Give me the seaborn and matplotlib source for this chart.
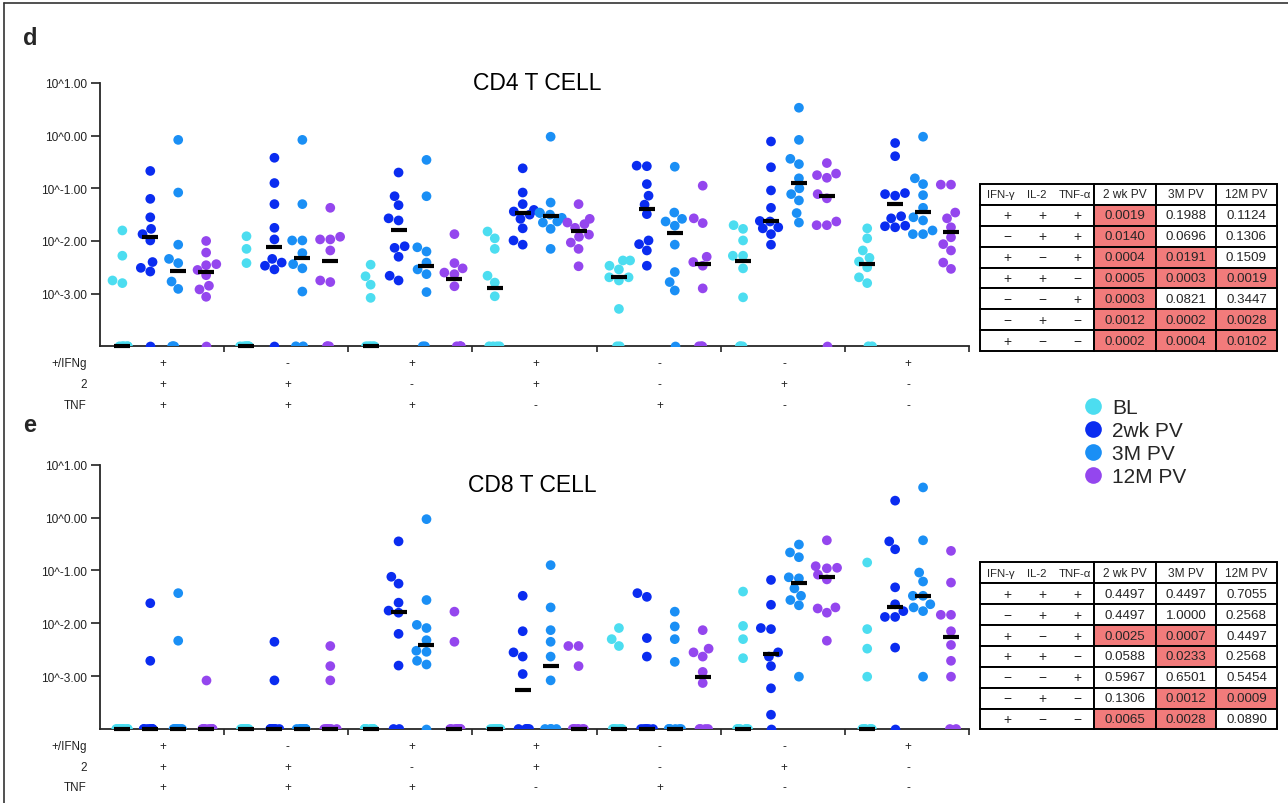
import numpy as np
import pandas as pd
import matplotlib
matplotlib.use("Agg")
import matplotlib.pyplot as plt
from matplotlib.lines import Line2D
from matplotlib.patches import Rectangle
from matplotlib.ticker import FixedLocator, FixedFormatter, NullLocator
import seaborn as sns

# ---------------- data (log10 of frequency; Z = zero / below detection) ----------------
Z = None
SERIES = ["BL", "2wk PV", "3M PV", "12M PV"]
COLORS = ["#4CDDF0", "#0A2CF0", "#1A8FF5", "#9446EE"]
ROW_NAMES = ["+/IFNg", "2", "TNF"]
IFNG = ["+", "-", "+", "+", "-", "-", "+"]
IL2 = ["+", "+", "-", "+", "-", "+", "-"]
TNF = ["+", "+", "+", "-", "+", "-", "-"]
Y_EXPONENTS = [1, 0, -1, -2, -3]

CD4_BL = [
    [-1.80, -2.28, -2.75, -2.80] + [Z] * 6,
    [-1.91, -2.15, -2.42] + [Z] * 7,
    [-2.45, -2.67, -2.83, -3.08] + [Z] * 6,
    [-1.82, -1.95, -2.15, -2.66, -2.79, -3.05] + [Z] * 4,
    [-2.37, -2.37, -2.47, -2.54, -2.69, -2.69, -2.75, -3.29] + [Z] * 2,
    [-1.70, -1.77, -1.99, -2.28, -2.28, -2.52, -3.07] + [Z] * 3,
    [-1.76, -1.95, -2.18, -2.32, -2.39, -2.50, -2.69, -2.80] + [Z] * 2,
]
CD4_2WK = [
    [-0.67, -1.20, -1.55, -1.77, -1.87, -1.99, -2.40, -2.51, -2.58, Z],
    [-0.42, -0.90, -1.30, -1.75, -1.97, -2.34, -2.41, -2.47, -2.54, Z],
    [-0.70, -1.15, -1.32, -1.57, -1.61, -2.10, -2.13, -2.30, -2.66, -2.75],
    [-0.62, -1.08, -1.30, -1.41, -1.44, -1.50, -1.58, -1.76, -1.99, -2.07],
    [-0.57, -0.58, -0.92, -1.14, -1.31, -1.49, -1.99, -2.06, -2.18, -2.47],
    [-0.11, -0.60, -1.04, -1.37, -1.62, -1.63, -1.74, -1.76, -1.87, -2.07],
    [-0.14, -0.39, -1.09, -1.11, -1.14, -1.53, -1.57, -1.71, -1.72, -1.74],
]
CD4_3M = [
    [-0.08, -1.08, -2.07, -2.34, -2.42, -2.77, -2.91, Z, Z, Z],
    [-0.08, -1.30, -1.99, -1.99, -2.23, -2.44, -2.52, -2.96, Z, Z],
    [-0.46, -1.15, -2.12, -2.20, -2.41, -2.54, -2.63, -2.97, Z, Z],
    [-0.02, -1.27, -1.46, -1.47, -1.50, -1.56, -1.63, -1.65, -1.77, -2.15],
    [-0.59, -1.46, -1.58, -1.63, -1.71, -2.07, -2.59, -2.78, -2.94, Z],
    [0.53, -0.08, -0.44, -0.54, -0.81, -1.00, -1.11, -1.23, -1.47, -1.65],
    [-0.02, -0.81, -0.92, -1.13, -1.37, -1.55, -1.61, -1.80, -1.87, -1.87],
]
CD4_12M = [
    [-2.00, -2.22, -2.44, -2.46, -2.55, -2.65, -2.85, -2.92, -3.06, Z],
    [-1.37, -1.92, -1.97, -1.97, -2.18, -2.75, -2.78, Z, Z, Z],
    [-1.87, -2.42, -2.52, -2.60, -2.63, -2.86, Z, Z, Z, Z],
    [-1.30, -1.58, -1.65, -1.68, -1.75, -1.88, -1.92, -2.03, -2.15, -2.48],
    [-0.95, -1.57, -1.66, -2.30, -2.40, -2.47, -2.90, Z, Z, Z],
    [-0.52, -0.72, -0.75, -0.80, -1.11, -1.19, -1.63, -1.70, -1.70, Z],
    [-0.93, -0.93, -1.46, -1.57, -1.74, -1.93, -2.06, -2.18, -2.41, -2.53],
]

CD8_BL = [
    [Z] * 10,
    [Z] * 10,
    [Z] * 10,
    [Z] * 10,
    [-2.09, -2.30, -2.43] + [Z] * 7,
    [-1.40, -2.05, -2.30, -2.66] + [Z] * 6,
    [-0.85, -2.11, -2.48, -3.01] + [Z] * 6,
]
CD8_2WK = [
    [-1.62, -2.71] + [Z] * 8,
    [-2.35, -3.08] + [Z] * 8,
    [-0.45, -1.12, -1.25, -1.61, -1.76, -1.80, -2.20, -2.80, Z, Z],
    [-1.48, -2.15, -2.55, -2.63, -2.96] + [Z] * 5,
    [-1.43, -1.50, -2.28, -2.63] + [Z] * 6,
    [-1.18, -1.65, -2.09, -2.11, -2.55, -2.63, -2.81, -3.23, -3.73, Z],
    [0.32, -0.45, -0.60, -1.32, -1.64, -1.77, -1.88, -1.88, -2.46, Z],
]
CD8_3M = [
    [-1.43, -2.33] + [Z] * 8,
    [Z] * 10,
    [-0.03, -1.56, -2.03, -2.09, -2.32, -2.52, -2.54, -2.71, -2.78, Z],
    [-0.90, -1.70, -2.13, -2.35, -2.63, -3.08, Z, Z, Z, Z],
    [-1.78, -2.06, -2.30, -2.73] + [Z] * 6,
    [-0.51, -0.66, -0.75, -1.13, -1.15, -1.34, -1.48, -1.56, -1.66, -3.01],
    [0.57, -0.43, -1.04, -1.21, -1.48, -1.48, -1.64, -1.70, -1.77, -3.01],
]
CD8_12M = [
    [-3.08] + [Z] * 9,
    [-2.43, -2.81, -3.08] + [Z] * 7,
    [-1.78, -2.35] + [Z] * 8,
    [-2.43, -2.43, -2.81] + [Z] * 7,
    [-2.13, -2.48, -2.55, -2.63, -2.92, -3.13, Z, Z, Z, Z],
    [-0.43, -0.92, -0.95, -0.96, -1.08, -1.17, -1.70, -1.72, -1.80, -2.33],
    [-0.63, -1.23, -1.84, -1.84, -2.15, -2.41, -2.71, -3.01, Z, Z],
]

TABLE_SIGN_HEAD = ["IFN-\u03b3", "IL-2", "TNF-\u03b1"]
TABLE_HEAD = ["2 wk PV", "3M PV", "12M PV"]
CD4_P_2WK = [0.0019, 0.0140, 0.0004, 0.0005, 0.0003, 0.0012, 0.0002]
CD4_P_3M = [0.1988, 0.0696, 0.0191, 0.0003, 0.0821, 0.0002, 0.0004]
CD4_P_12M = [0.1124, 0.1306, 0.1509, 0.0019, 0.3447, 0.0028, 0.0102]
CD8_P_2WK = [0.4497, 0.4497, 0.0025, 0.0588, 0.5967, 0.1306, 0.0065]
CD8_P_3M = [0.4497, 1.0000, 0.0007, 0.0233, 0.6501, 0.0012, 0.0028]
CD8_P_12M = [0.7055, 0.2568, 0.4497, 0.2568, 0.5454, 0.0009, 0.0890]

# ---------------- style / layout ----------------
W, H = 1288, 804
FLOOR = 1e-4
OFFSET = {"BL": -0.32, "2wk PV": -0.095, "3M PV": 0.13, "12M PV": 0.355}
PAL = dict(zip(SERIES, COLORS))
RED = "#F27B7B"
DOT = 7.0

sns.set_style("ticks")
plt.rcParams["font.family"] = ["Liberation Sans", "DejaVu Sans"]
plt.rcParams["axes.linewidth"] = 1.3

fig = plt.figure(figsize=(W / 100, H / 100), dpi=100)


def fx(x):
    return x / W


def fy(y):
    return 1 - y / H


def build(lists):
    rows = []
    for s, groups in zip(SERIES, lists):
        for g, vals in enumerate(groups):
            for v in vals:
                rows.append({"group": g, "series": s,
                             "value": 0.0 if v is None else 10.0 ** v})
    df = pd.DataFrame(rows)
    df["x"] = df["group"] + df["series"].map(OFFSET)
    df["y"] = df["value"].clip(lower=FLOOR)
    return df


def native_w(d):
    u = np.unique(d["x"])
    return np.min(np.diff(u)) if len(u) > 1 else 1.0


def panel(top_px, bottom_px, lists, title, title_xy):
    ax = fig.add_axes([fx(100), fy(bottom_px), fx(969) - fx(100),
                       (bottom_px - top_px) / H])
    df = build(lists)
    pos = df[df["value"] > 0]
    zer = df[df["value"] == 0]
    med = df.groupby(["group", "series"], as_index=False)["value"].median()
    med["x"] = med["group"] + med["series"].map(OFFSET)
    med["y"] = med["value"].clip(lower=FLOOR)

    ax.set_yscale("log")
    ax.set_ylim(FLOOR, 10)
    ax.set_xlim(-0.5, 6.5)

    np.random.seed(3)
    sns.stripplot(data=zer, x="x", y="y", hue="series", hue_order=SERIES,
                  palette=PAL, native_scale=True, orient="x",
                  jitter=0.055 / native_w(zer), size=DOT, linewidth=0,
                  legend=False, ax=ax, zorder=3)
    sns.swarmplot(data=pos, x="x", y="y", hue="series", hue_order=SERIES,
                  palette=PAL, native_scale=True, orient="x", size=DOT,
                  linewidth=0, legend=False, ax=ax, zorder=3, warn_thresh=1)
    sns.stripplot(data=med, x="x", y="y", hue="series", hue_order=SERIES,
                  palette={s: "black" for s in SERIES}, native_scale=True,
                  orient="x", jitter=False, marker="_", size=11,
                  linewidth=3.0, edgecolor="black", legend=False, ax=ax,
                  zorder=5, clip_on=False)

    ax.set_yscale("log")
    ax.set_ylim(FLOOR, 10)
    ax.set_xlim(-0.5, 6.5)
    ax.yaxis.set_major_locator(FixedLocator([10.0 ** e for e in Y_EXPONENTS]))
    ax.yaxis.set_major_formatter(FixedFormatter([f"10^{e:.2f}" for e in Y_EXPONENTS]))
    ax.yaxis.set_minor_locator(NullLocator())
    ax.xaxis.set_major_locator(FixedLocator([g + 0.5 for g in range(7)]))
    ax.xaxis.set_major_formatter(FixedFormatter([""] * 7))
    ax.xaxis.set_minor_locator(NullLocator())
    ax.tick_params(axis="y", length=6.5, width=1.2, labelsize=8.6, pad=3,
                   colors="#222222")
    ax.tick_params(axis="x", length=4.5, width=1.2)
    ax.set_xlabel("")
    ax.set_ylabel("")
    sns.despine(ax=ax)

    # combination labels under the axis
    offs = [-16.7, -37.7, -58.5]
    for name, off in zip(ROW_NAMES, offs):
        ax.annotate(name, xy=(0, 0), xycoords="axes fraction",
                    xytext=(-13, off), textcoords="offset pixels",
                    ha="right", va="center", fontsize=8.4, color="#222222")
    for signs, off in zip([IFNG, IL2, TNF], offs):
        for g, s in enumerate(signs):
            ax.annotate(s, xy=(g + 0.01, 0), xycoords=("data", "axes fraction"),
                        xytext=(0, off), textcoords="offset pixels",
                        ha="center", va="center", fontsize=8.4, color="#222222")
    fig.text(fx(title_xy[0]), fy(title_xy[1]), title, ha="center", va="center",
             fontsize=16.5, color="black")
    return ax


def table(top_px, p2, p3, p12):
    rows = 8
    bottom_px = top_px + 167
    ax = fig.add_axes([fx(980), fy(bottom_px), fx(1277) - fx(980), 167 / H])
    ax.set_xlim(980, 1277)
    ax.set_ylim(bottom_px, top_px)
    ax.axis("off")
    cols = [980, 1094, 1156, 1216, 1277]
    sign_x = [1007, 1042, 1077]
    head_x = [1001, 1037, 1075]
    rh = 167 / rows
    lw = 1.4
    # header
    y0 = top_px
    for c in range(4):
        ax.add_patch(Rectangle((cols[c], y0), cols[c + 1] - cols[c], rh,
                               facecolor="white", edgecolor="black", lw=lw,
                               clip_on=False))
    for hx, t in zip(head_x, TABLE_SIGN_HEAD):
        ax.text(hx, y0 + rh / 2, t, ha="center", va="center", fontsize=8.2)
    for c, t in enumerate(TABLE_HEAD):
        ax.text((cols[c + 1] + cols[c + 2]) / 2, y0 + rh / 2, t, ha="center",
                va="center", fontsize=8.6)
    for r in range(7):
        yr = top_px + (r + 1) * rh
        ax.add_patch(Rectangle((cols[0], yr), cols[1] - cols[0], rh,
                               facecolor="white", edgecolor="black", lw=lw,
                               clip_on=False))
        for sx, s in zip(sign_x, [IFNG[r], IL2[r], TNF[r]]):
            ax.text(sx, yr + rh / 2, "+" if s == "+" else "\u2212", ha="center",
                    va="center", fontsize=10)
        for c, pv in enumerate([p2[r], p3[r], p12[r]]):
            ax.add_patch(Rectangle((cols[c + 1], yr), cols[c + 2] - cols[c + 1], rh,
                                   facecolor=RED if pv < 0.05 else "white",
                                   edgecolor="black", lw=lw, clip_on=False))
            ax.text((cols[c + 1] + cols[c + 2]) / 2, yr + rh / 2, f"{pv:.4f}",
                    ha="center", va="center", fontsize=9.6)


panel(84, 347.3, [CD4_BL, CD4_2WK, CD4_3M, CD4_12M], "CD4 T CELL", (537.5, 83.5))
panel(465.7, 730, [CD8_BL, CD8_2WK, CD8_3M, CD8_12M], "CD8 T CELL", (532.5, 486))
table(185, CD4_P_2WK, CD4_P_3M, CD4_P_12M)
table(563.5, CD8_P_2WK, CD8_P_3M, CD8_P_12M)

# legend
handles = [Line2D([], [], ls="", marker="o", markersize=12, color=c,
                  markeredgewidth=0) for c in COLORS]
fig.legend(handles, SERIES, loc="upper left",
           bbox_to_anchor=(fx(1082.6), fy(399)), frameon=False, fontsize=15,
           handlelength=1.0, handletextpad=0.4, labelspacing=0.2,
           borderpad=0, borderaxespad=0)

# panel letters
fig.text(fx(23), fy(45), "d", fontsize=17, fontweight="bold", va="baseline")
fig.text(fx(23), fy(432), "e", fontsize=17, fontweight="bold", va="baseline")

# figure frame (top and left)
fig.add_artist(Line2D([fx(4), 1], [fy(4), fy(4)], color="#333333", lw=1.2,
                      transform=fig.transFigure))
fig.add_artist(Line2D([fx(4), fx(4)], [0, fy(4)], color="#333333", lw=1.2,
                      transform=fig.transFigure))

fig.savefig("out.png", dpi=100)
